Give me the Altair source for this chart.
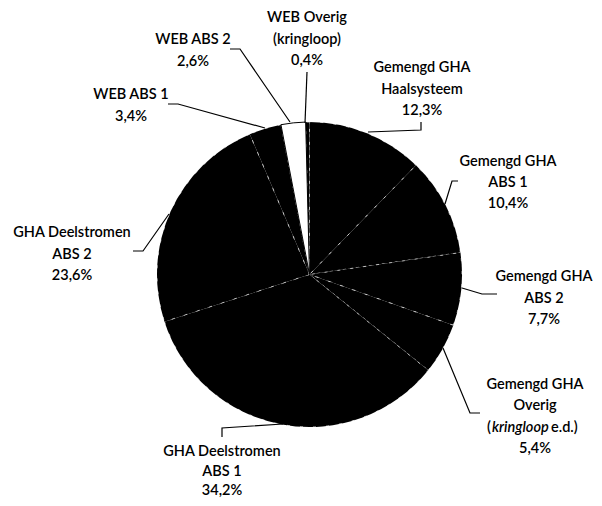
import altair as alt
import pandas as pd

# ---- data ----
categories = [
    "Gemengd GHA Haalsysteem",
    "Gemengd GHA ABS 1",
    "Gemengd GHA ABS 2",
    "Gemengd GHA Overig (kringloop e.d.)",
    "GHA Deelstromen ABS 1",
    "GHA Deelstromen ABS 2",
    "WEB ABS 1",
    "WEB ABS 2",
    "WEB Overig (kringloop)",
]
values = [12.3, 10.4, 7.7, 5.4, 34.2, 23.6, 3.4, 2.6, 0.4]
label_lines = [
    ["Gemengd GHA", "Haalsysteem"],
    ["Gemengd GHA", "ABS 1"],
    ["Gemengd GHA", "ABS 2"],
    ["Gemengd GHA", "Overig", None],  # None -> mixed italic line
    ["GHA Deelstromen", "ABS 1"],
    ["GHA Deelstromen", "ABS 2"],
    ["WEB ABS 1"],
    ["WEB ABS 2"],
    ["WEB Overig", "(kringloop)"],
]

# ---- styling / layout (page pixel coordinates) ----
fills = ["#000000"] * 7 + ["#ffffff", "#000000"]
outline = ["transparent"] * 7 + ["#000000", "transparent"]
FONT = "Lato"
FS = 14.5
label_pos = [  # (center x, first-line y, line gap)
    (422, 68, 21.5), (508, 162, 21), (544, 277, 21.5), (535, 385, 21.3), (222, 452, 19.5),
    (72, 233, 21.5), (131, 95, 22), (193, 40, 22), (307, 18, 21.5),
]
leaders = [
    [(421, 122), (421, 130), (368, 132)],
    [(458, 181), (452, 181), (445, 204)],
    [(497, 294), (482, 294), (462, 288)],
    [(480, 413), (470, 413), (443, 348)],
    [(222, 437), (222, 428), (283, 424)],
    [(133, 251), (143, 251), (169, 214)],
    [(168, 104), (178, 104), (265, 128)],
    [(230, 49), (240, 49), (290, 122)],
    [(307, 72), (305, 123)],
]
CX, CY, R = 309.5, 274.5, 152.5
W, H = 586, 490

def pct(v):
    return f"{v:.1f}".replace(".", ",") + "%"

pie_df = pd.DataFrame({"cat": categories, "value": values, "idx": range(len(categories))})

rows, mixed = [], []
for i, lines in enumerate(label_lines):
    x, y0, gap = label_pos[i]
    allines = lines + [pct(values[i])]
    for j, t in enumerate(allines):
        y = y0 + j * gap
        if t is None:
            mixed.append(y)
        else:
            rows.append({"t": t, "px": x, "py": y})
text_df = pd.DataFrame(rows)
my = mixed[0]
paren_df = pd.DataFrame({"t": ["(", "e.d.)"], "px": [487, 551], "py": [my, my]})
ital_df = pd.DataFrame({"t": ["kringloop"], "px": [492], "py": [my]})

lrows = []
for i, pts in enumerate(leaders):
    for k, (x, y) in enumerate(pts):
        lrows.append({"lid": i, "k": k, "px": x, "py": y})
line_df = pd.DataFrame(lrows)

xs = alt.Scale(domain=[8, 8 + W], range=[0, W], nice=False, zero=False)
ys = alt.Scale(domain=[8, 8 + H], range=[0, H], nice=False, zero=False)
X = alt.X("px:Q", scale=xs, axis=None)
Y = alt.Y("py:Q", scale=ys, axis=None)

base = alt.Chart(pie_df).encode(
    theta=alt.Theta("value:Q", stack=True),
    order=alt.Order("idx:Q"),
    x=alt.value(CX - 8),
    y=alt.value(CY - 8),
)
pie = base.mark_arc(radius=R, stroke="#ffffff", strokeWidth=0.8, strokeOpacity=0.85,
                    strokeDash=[3, 10]).encode(
    fill=alt.Fill("cat:N", scale=alt.Scale(domain=categories, range=fills), legend=None),
)
pie_outline = base.mark_arc(radius=R, fillOpacity=0, strokeWidth=1).encode(
    stroke=alt.Stroke("cat:N", scale=alt.Scale(domain=categories, range=outline), legend=None),
)

leader = alt.Chart(line_df).mark_line(color="#000000", strokeWidth=1.2).encode(
    x=X, y=Y, detail="lid:N", order="k:Q"
)

txt_common = dict(font=FONT, fontSize=FS, fontWeight=600, color="#000000", baseline="middle")
labels = alt.Chart(text_df).mark_text(align="center", **txt_common).encode(x=X, y=Y, text="t:N")
parens = alt.Chart(paren_df).mark_text(align="left", **txt_common).encode(x=X, y=Y, text="t:N")
ital = alt.Chart(ital_df).mark_text(align="left", fontStyle="italic", **txt_common).encode(x=X, y=Y, text="t:N")

chart = alt.layer(pie, pie_outline, leader, labels, parens, ital).properties(
    width=W, height=H, padding=0, autosize=alt.AutoSizeParams(type="none")
).configure_view(stroke=None)

chart.save("out.html", embed_options={"renderer": "svg", "actions": False})
